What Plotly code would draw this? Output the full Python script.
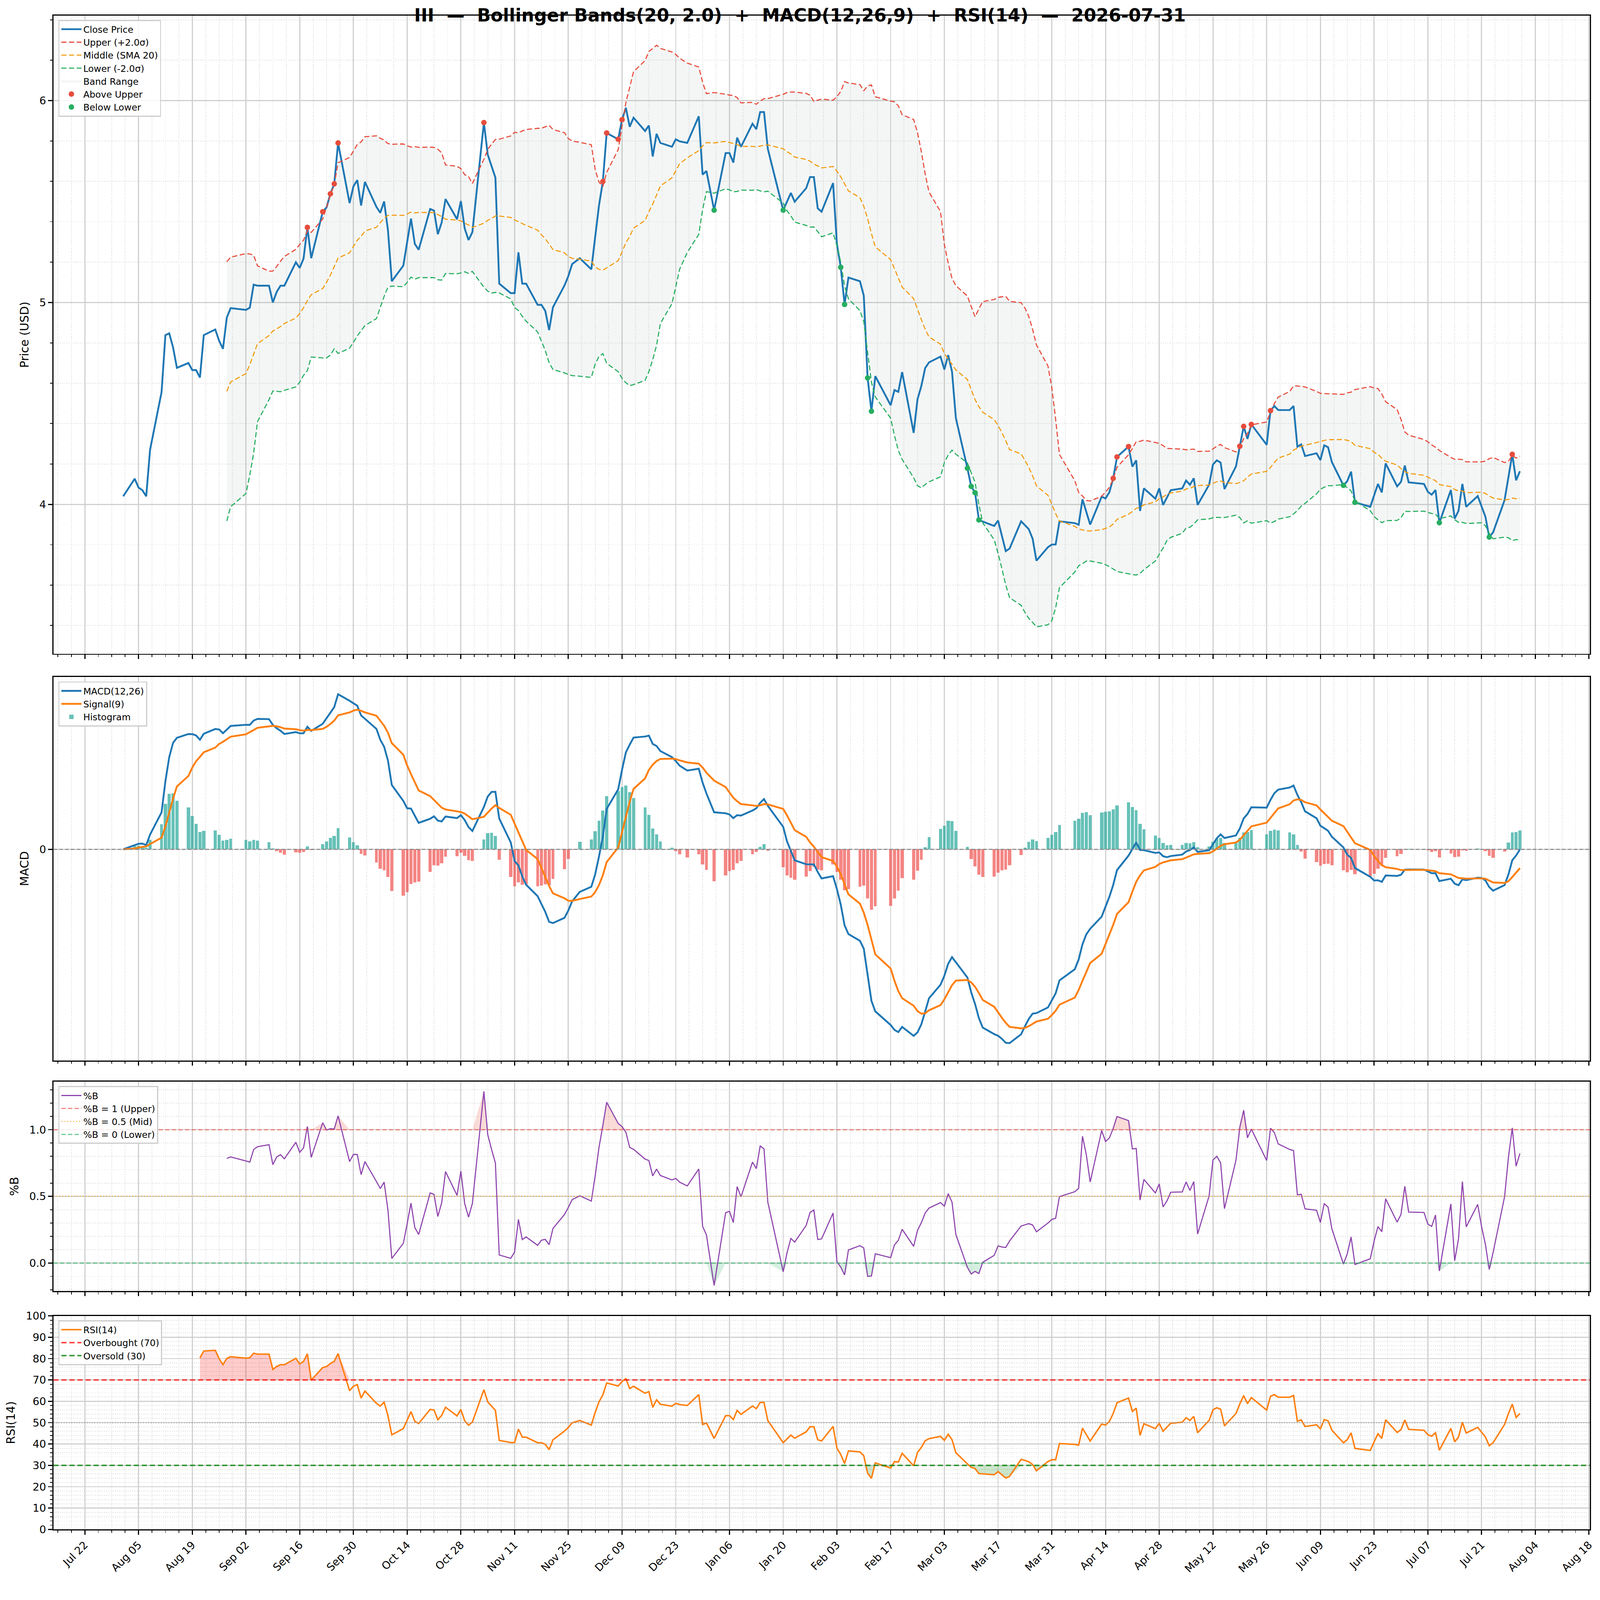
import numpy as np
import pandas as pd
import plotly.graph_objects as go
from plotly.subplots import make_subplots

TICKER = "III"
AS_OF = "2026-07-31"
FIG_W, FIG_H = 4378, 4322

# US market holidays inside the window (no bars on these days)
HOLIDAYS = ["2025-09-01", "2025-11-27", "2025-12-25", "2026-01-01", "2026-01-19",
            "2026-02-16", "2026-04-03", "2026-05-25", "2026-06-19", "2026-07-03"]

# daily closes, one list per month
CLOSE_AUG = [4.04, 4.127, 4.083, 4.07, 4.04, 4.27, 4.556, 4.838, 4.847, 4.777, 4.676,
             4.70, 4.665, 4.665, 4.628, 4.838, 4.866, 4.81, 4.77, 4.925, 4.972]
CLOSE_SEP = [4.963, 4.974, 5.088, 5.083, 5.083, 5.0, 5.052, 5.083, 5.083, 5.199, 5.171,
             5.217, 5.372, 5.219, 5.449, 5.471, 5.538, 5.587, 5.79, 5.492, 5.575]
CLOSE_OCT = [5.606, 5.48, 5.597, 5.473, 5.444, 5.50, 5.357, 5.105, 5.182, 5.298, 5.415,
             5.29, 5.261, 5.463, 5.455, 5.338, 5.396, 5.512, 5.412, 5.502, 5.366, 5.309, 5.348]
CLOSE_NOV = [5.891, 5.732, 5.675, 5.618, 5.093, 5.046, 5.046, 5.248, 5.093, 5.093, 4.988,
             4.988, 4.958, 4.863, 4.976, 5.084, 5.13, 5.19, 5.219]
CLOSE_DEC = [5.164, 5.324, 5.481, 5.599, 5.839, 5.808, 5.905, 5.964, 5.870, 5.915, 5.849,
             5.876, 5.723, 5.835, 5.79, 5.771, 5.808, 5.798, 5.79, 5.922, 5.633, 5.651]
CLOSE_JAN = [5.457, 5.74, 5.74, 5.693, 5.816, 5.771, 5.885, 5.858, 5.943, 5.943, 5.76,
             5.457, 5.499, 5.542, 5.499, 5.566, 5.621, 5.621, 5.466, 5.449]
CLOSE_FEB = [5.591, 5.289, 5.174, 4.99, 5.123, 5.105, 5.034, 4.626, 4.461, 4.635, 4.491,
             4.566, 4.557, 4.655, 4.354, 4.52, 4.586, 4.675, 4.703]
CLOSE_MAR = [4.732, 4.668, 4.739, 4.657, 4.427, 4.179, 4.089, 4.058, 3.923, 3.915, 3.893,
             3.92, 3.843, 3.768, 3.781, 3.916, 3.897, 3.877, 3.83, 3.721, 3.788, 3.801]
CLOSE_APR = [3.801, 3.916, 3.907, 3.899, 4.025, 3.963, 3.9, 4.038, 4.029, 4.06, 4.129,
             4.235, 4.286, 4.187, 4.218, 3.967, 4.079, 4.028, 4.079, 3.997, 4.033]
CLOSE_MAY = [4.07, 4.079, 4.118, 4.097, 4.129, 3.997, 4.097, 4.197, 4.218, 4.207, 4.076,
             4.188, 4.288, 4.386, 4.324, 4.396, 4.295, 4.464, 4.487, 4.467]
CLOSE_JUN = [4.467, 4.487, 4.285, 4.297, 4.239, 4.253, 4.219, 4.292, 4.283, 4.209, 4.094,
             4.115, 4.162, 4.01, 3.988, 4.045, 4.101, 4.059, 4.203, 4.089, 4.111]
CLOSE_JUL = [4.192, 4.109, 4.101, 4.062, 4.048, 4.071, 3.909, 4.071, 3.929, 3.968, 4.101,
             3.988, 4.041, 3.991, 3.939, 3.838, 3.861, 4.021, 4.135, 4.248, 4.119, 4.164]

BB_N, BB_K = 20, 2.0
FAST, SLOW, SIG = 12, 26, 9
RSI_N = 14


def main():
    closes = (CLOSE_AUG + CLOSE_SEP + CLOSE_OCT + CLOSE_NOV + CLOSE_DEC + CLOSE_JAN +
              CLOSE_FEB + CLOSE_MAR + CLOSE_APR + CLOSE_MAY + CLOSE_JUN + CLOSE_JUL)
    days = pd.bdate_range("2025-08-01", AS_OF, freq="C", holidays=HOLIDAYS)
    n = min(len(days), len(closes))
    close = pd.Series(closes[:n], index=days[:n])

    # bollinger
    mid = close.rolling(BB_N).mean()
    sd = close.rolling(BB_N).std()
    upper = mid + BB_K * sd
    lower = mid - BB_K * sd
    pctb = (close - lower) / (upper - lower)

    # macd
    macd = close.ewm(span=FAST, adjust=False).mean() - close.ewm(span=SLOW, adjust=False).mean()
    signal = macd.ewm(span=SIG, adjust=False).mean()
    hist = macd - signal

    # rsi (wilder)
    delta = close.diff()
    gain = delta.clip(lower=0)
    loss = -delta.clip(upper=0)
    avg_gain = gain.ewm(alpha=1 / RSI_N, adjust=False, min_periods=RSI_N).mean()
    avg_loss = loss.ewm(alpha=1 / RSI_N, adjust=False, min_periods=RSI_N).mean()
    rsi = 100 - 100 / (1 + avg_gain / avg_loss)

    ok = upper.notna()
    above = close > upper
    below = close < lower

    fig = make_subplots(rows=4, cols=1, shared_xaxes=True)

    # ---- price panel
    fig.add_trace(go.Scatter(x=close.index[ok], y=upper[ok], mode="lines",
                             line=dict(width=0), showlegend=False, hoverinfo="skip"), row=1, col=1)
    fig.add_trace(go.Scatter(x=close.index[ok], y=lower[ok], mode="lines", name="Band Range",
                             line=dict(width=0), fill="tonexty",
                             fillcolor="rgba(149,165,166,0.10)", legendrank=5), row=1, col=1)
    fig.add_trace(go.Scatter(x=close.index, y=close, mode="lines", name="Close Price",
                             line=dict(color="#1f77b4", width=5), legendrank=1), row=1, col=1)
    fig.add_trace(go.Scatter(x=close.index[ok], y=upper[ok], mode="lines", name="Upper (+2.0σ)",
                             line=dict(color="#e74c3c", width=3, dash="14px,7px"), legendrank=2), row=1, col=1)
    fig.add_trace(go.Scatter(x=close.index[ok], y=mid[ok], mode="lines", name="Middle (SMA 20)",
                             line=dict(color="#f39c12", width=3, dash="14px,7px"), legendrank=3), row=1, col=1)
    fig.add_trace(go.Scatter(x=close.index[ok], y=lower[ok], mode="lines", name="Lower (-2.0σ)",
                             line=dict(color="#27ae60", width=3, dash="14px,7px"), legendrank=4), row=1, col=1)
    fig.add_trace(go.Scatter(x=close.index[above], y=close[above], mode="markers", name="Above Upper",
                             marker=dict(color="#e74c3c", size=15), legendrank=6), row=1, col=1)
    fig.add_trace(go.Scatter(x=close.index[below], y=close[below], mode="markers", name="Below Lower",
                             marker=dict(color="#27ae60", size=15), legendrank=7), row=1, col=1)

    # ---- macd panel
    bar_colors = ["rgba(38,166,154,0.7)" if v >= 0 else "rgba(239,83,80,0.7)" for v in hist]
    fig.add_trace(go.Bar(x=close.index, y=hist, name="Histogram", marker=dict(color=bar_colors, line=dict(width=0)),
                         width=0.8 * 86400000, legend="legend2", legendrank=3), row=2, col=1)
    fig.add_trace(go.Scatter(x=close.index, y=macd, mode="lines", name="MACD(12,26)",
                             line=dict(color="#1f77b4", width=5), legend="legend2", legendrank=1), row=2, col=1)
    fig.add_trace(go.Scatter(x=close.index, y=signal, mode="lines", name="Signal(9)",
                             line=dict(color="#ff7f0e", width=5), legend="legend2", legendrank=2), row=2, col=1)
    fig.add_hline(y=0, row=2, col=1, line=dict(color="#888888", width=2.5, dash="10px,6px"))

    # ---- %B panel
    idx = close.index[ok]
    pb = pctb[ok]
    fig.add_trace(go.Scatter(x=idx, y=np.full(len(pb), 1.0), mode="lines", line=dict(width=0),
                             showlegend=False, hoverinfo="skip"), row=3, col=1)
    fig.add_trace(go.Scatter(x=idx, y=np.maximum(pb, 1.0), mode="lines", line=dict(width=0),
                             fill="tonexty", fillcolor="rgba(231,76,60,0.2)", showlegend=False,
                             hoverinfo="skip"), row=3, col=1)
    fig.add_trace(go.Scatter(x=idx, y=np.zeros(len(pb)), mode="lines", line=dict(width=0),
                             showlegend=False, hoverinfo="skip"), row=3, col=1)
    fig.add_trace(go.Scatter(x=idx, y=np.minimum(pb, 0.0), mode="lines", line=dict(width=0),
                             fill="tonexty", fillcolor="rgba(39,174,96,0.2)", showlegend=False,
                             hoverinfo="skip"), row=3, col=1)
    fig.add_trace(go.Scatter(x=idx, y=pb, mode="lines", name="%B",
                             line=dict(color="#8e44ad", width=3), legend="legend3", legendrank=1), row=3, col=1)
    pb_lines = [(1.0, "%B = 1 (Upper)", "rgba(231,76,60,0.7)", "12px,6px"),
                (0.5, "%B = 0.5 (Mid)", "rgba(243,156,18,0.7)", "3px,5px"),
                (0.0, "%B = 0 (Lower)", "rgba(39,174,96,0.7)", "12px,6px")]
    for k, (lvl, label, col, dash) in enumerate(pb_lines):
        fig.add_hline(y=lvl, row=3, col=1, line=dict(color=col, width=3, dash=dash))
        fig.add_trace(go.Scatter(x=[None], y=[None], mode="lines", name=label,
                                 line=dict(color=col, width=3, dash=dash), legend="legend3",
                                 legendrank=k + 2), row=3, col=1)

    # ---- rsi panel
    rok = rsi.notna()
    ridx = close.index[rok]
    r = rsi[rok]
    fig.add_trace(go.Scatter(x=ridx, y=np.full(len(r), 70.0), mode="lines", line=dict(width=0),
                             showlegend=False, hoverinfo="skip"), row=4, col=1)
    fig.add_trace(go.Scatter(x=ridx, y=np.maximum(r, 70.0), mode="lines", line=dict(width=0),
                             fill="tonexty", fillcolor="rgba(255,0,0,0.2)", showlegend=False,
                             hoverinfo="skip"), row=4, col=1)
    fig.add_trace(go.Scatter(x=ridx, y=np.full(len(r), 30.0), mode="lines", line=dict(width=0),
                             showlegend=False, hoverinfo="skip"), row=4, col=1)
    fig.add_trace(go.Scatter(x=ridx, y=np.minimum(r, 30.0), mode="lines", line=dict(width=0),
                             fill="tonexty", fillcolor="rgba(0,128,0,0.2)", showlegend=False,
                             hoverinfo="skip"), row=4, col=1)
    fig.add_trace(go.Scatter(x=ridx, y=r, mode="lines", name="RSI(14)",
                             line=dict(color="#ff7f0e", width=4), legend="legend4", legendrank=1), row=4, col=1)
    fig.add_hline(y=50, row=4, col=1, line=dict(color="#999999", width=2.5, dash="3px,4px"))
    for k, (lvl, label, col) in enumerate([(70, "Overbought (70)", "rgba(255,0,0,0.75)"),
                                           (30, "Oversold (30)", "rgba(0,128,0,0.8)")]):
        fig.add_hline(y=lvl, row=4, col=1, line=dict(color=col, width=4, dash="14px,8px"))
        fig.add_trace(go.Scatter(x=[None], y=[None], mode="lines", name=label,
                                 line=dict(color=col, width=4, dash="14px,8px"), legend="legend4",
                                 legendrank=k + 2), row=4, col=1)

    # ---- axes
    span = close.index[-1] - close.index[0]
    x_range = [close.index[0] - span * 0.05, close.index[-1] + span * 0.05]
    day_ms = 86400000
    grid = "#d0d0d0"
    mgrid = "#e2e2e2"
    tickfont = dict(family="DejaVu Sans", size=29, color="black")
    for i in range(1, 5):
        fig.update_xaxes(
            row=i, col=1, type="date", range=x_range, tick0="2025-07-22", dtick=14 * day_ms,
            tickformat="%b %d", ticks="outside", ticklen=11, tickwidth=2.5, tickcolor="black",
            showgrid=True, gridcolor=grid, gridwidth=2.5,
            showline=True, mirror=True, linecolor="black", linewidth=3,
            minor=dict(tick0="2025-07-22", dtick=3.5 * day_ms, ticks="outside", ticklen=6,
                       tickwidth=2, tickcolor="black", showgrid=True, gridcolor=mgrid,
                       gridwidth=2, griddash="dot"),
            tickfont=tickfont, zeroline=False,
        )
    fig.update_xaxes(row=4, col=1, tickangle=-45, showticklabels=True)

    yaxis_common = dict(ticks="outside", ticklen=11, tickwidth=2.5, tickcolor="black",
                        showgrid=True, gridcolor=grid, gridwidth=2.5, zeroline=False,
                        showline=True, mirror=True, linecolor="black", linewidth=3,
                        tickfont=tickfont, title_standoff=20)
    title_font = dict(family="DejaVu Sans", size=32, color="black")

    vals = pd.concat([macd, signal, hist])
    lo, hi = vals.min(), vals.max()
    pad = 0.05 * (hi - lo)

    fig.update_yaxes(row=1, col=1, range=[3.26, 6.42], tick0=0, dtick=1,
                     minor=dict(dtick=0.2, ticks="outside", ticklen=6, tickwidth=2, tickcolor="black",
                                showgrid=True, gridcolor=mgrid, gridwidth=2, griddash="dot"),
                     title=dict(text="Price (USD)", font=title_font), **yaxis_common)
    fig.update_yaxes(row=2, col=1, range=[lo - pad, hi + pad], tickvals=[0], ticktext=["0"],
                     title=dict(text="MACD", font=title_font), **yaxis_common)
    fig.update_yaxes(row=3, col=1, range=[-0.21, 1.36], tick0=0, dtick=0.5, tickformat=".1f",
                     minor=dict(dtick=0.1, ticks="outside", ticklen=6, tickwidth=2, tickcolor="black",
                                showgrid=True, gridcolor=mgrid, gridwidth=2, griddash="dot"),
                     title=dict(text="%B", font=title_font), **yaxis_common)
    fig.update_yaxes(row=4, col=1, range=[0, 100], tick0=0, dtick=10,
                     minor=dict(dtick=2, ticks="outside", ticklen=6, tickwidth=2, tickcolor="black",
                                showgrid=True, gridcolor=mgrid, gridwidth=2, griddash="dot"),
                     title=dict(text="RSI(14)", font=title_font), **yaxis_common)

    leg = dict(x=0.0033, xanchor="left", yanchor="top", bgcolor="rgba(255,255,255,0.85)",
               bordercolor="#cccccc", borderwidth=3, traceorder="normal", itemwidth=55,
               font=dict(family="DejaVu Sans", size=25, color="black"), tracegroupgap=0)

    fig.update_layout(
        width=FIG_W, height=FIG_H,
        margin=dict(l=146, r=28, t=43, b=134),
        paper_bgcolor="white", plot_bgcolor="white",
        font=dict(family="DejaVu Sans", color="black"),
        title=dict(text=f"<b>{TICKER}  —  Bollinger Bands({BB_N}, {BB_K})  +  MACD({FAST},{SLOW},{SIG})  +  RSI({RSI_N})  —  {AS_OF}</b>",
                   x=0.5, xanchor="center", xref="container", y=1 - 42 / FIG_H, yanchor="middle",
                   yref="container", font=dict(family="DejaVu Sans", size=49, color="black")),
        yaxis=dict(domain=[0.5785, 1.0]),
        yaxis2=dict(domain=[0.3098, 0.5633]),
        yaxis3=dict(domain=[0.1575, 0.2958]),
        yaxis4=dict(domain=[0.0, 0.1411]),
        legend=dict(y=0.9973, **leg),
        legend2=dict(y=0.5602, **leg),
        legend3=dict(y=0.2929, **leg),
        legend4=dict(y=0.1382, **leg),
        bargap=0,
        hovermode=False,
    )

    # shrink the page to the real viewport if it is smaller than the figure
    fit_js = (
        "document.body.style.margin='0';document.body.style.overflow='hidden';"
        f"var s=Math.min(window.innerWidth/{FIG_W}, window.innerHeight/{FIG_H});"
        "if(s<1){document.body.style.zoom=s;}"
    )
    fig.write_html("out.html", post_script=fit_js, config={"displayModeBar": False})


if __name__ == "__main__":
    main()
